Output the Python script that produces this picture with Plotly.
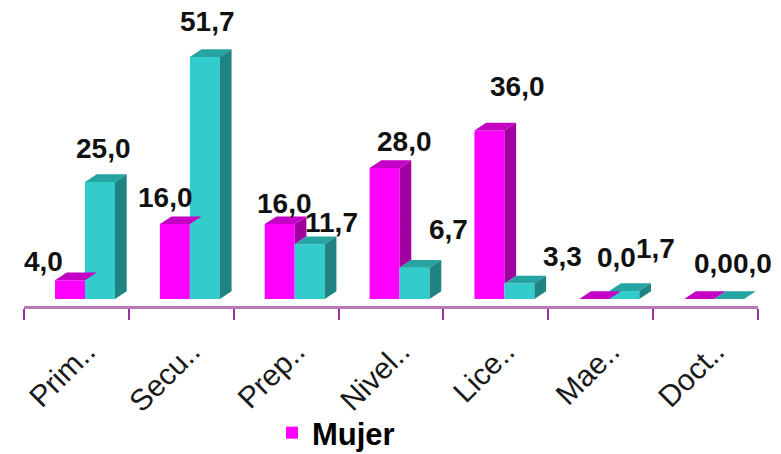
import plotly.graph_objects as go

# Education level shares (%)
categories = ["Prim..", "Secu..", "Prep..", "Nivel..", "Lice..", "Mae..", "Doct.."]
mujer = [4.0, 16.0, 16.0, 28.0, 36.0, 0.0, 0.0]
hombre = [25.0, 51.7, 11.7, 6.7, 3.3, 1.7, 0.0]

# Label offsets in pixels (x, y) relative to each bar's centre/top
mujer_label_dx = [-27, -9, 5, 20, 28, 22, 14]
mujer_label_dy = [19, 27, 21, 26, 44, 42, 36]
hombre_label_dx = [3, 3, 22, 34, 43, 31, 23]
hombre_label_dy = [34, 36, 22, 38, 27, 43, 36]

# Canvas and plot-area geometry
W, H = 781, 454
M_L, M_R, M_T, M_B = 24, 23, 10, 148
PLOT_W = W - M_L - M_R
PLOT_H = H - M_T - M_B
PX_PER_X = PLOT_W / len(categories)
PX_PER_Y = 4.68
BASE_PX = 7  # floor sits this many pixels above the axis line
Y_MIN = -BASE_PX / PX_PER_Y
Y_MAX = Y_MIN + PLOT_H / PX_PER_Y

# Bar geometry (in axis units)
BAR_W = 30 / PX_PER_X
M_OFF = -0.5 + 31 / PX_PER_X + BAR_W / 2
C_OFF = M_OFF + BAR_W
DEPTH_X = 11.7 / PX_PER_X
DEPTH_Y = 7.7 / PX_PER_Y

MAG_FRONT, MAG_TOP, MAG_SIDE = "#ff00ff", "#c400c4", "#a000a0"
CYA_FRONT, CYA_TOP, CYA_SIDE = "#33cccc", "#26a3a3", "#1f8383"

idx = list(range(len(categories)))
xm = [i + M_OFF for i in idx]
xc = [i + C_OFF for i in idx]


def top_faces(xs, vals):
    px, py = [], []
    for x, v in zip(xs, vals):
        l, r = x - BAR_W / 2, x + BAR_W / 2
        px += [l, r, r + DEPTH_X, l + DEPTH_X, l, None]
        py += [v, v, v + DEPTH_Y, v + DEPTH_Y, v, None]
    return px, py


def side_faces(xs, vals, bottoms):
    px, py = [], []
    for x, v, b in zip(xs, vals, bottoms):
        r = x + BAR_W / 2
        px += [r, r + DEPTH_X, r + DEPTH_X, r, r, None]
        py += [b, b + DEPTH_Y, v + DEPTH_Y, v, b, None]
    return px, py


def poly(xy, color):
    return go.Scatter(
        x=xy[0], y=xy[1], mode="lines", fill="toself", fillcolor=color,
        line=dict(width=0, color=color), hoverinfo="skip", showlegend=False,
    )


fig = go.Figure()

# Front faces
fig.add_trace(go.Bar(x=xm, y=mujer, width=BAR_W, name="Mujer",
                     marker=dict(color=MAG_FRONT, line=dict(width=0))))
fig.add_trace(go.Bar(x=xc, y=hombre, width=BAR_W, name="Hombre", showlegend=False,
                     marker=dict(color=CYA_FRONT, line=dict(width=0))))

# Magenta side is only visible above the neighbouring cyan bar
mag_side_bottom = [min(c, m) for m, c in zip(mujer, hombre)]
fig.add_trace(poly(side_faces(xm, mujer, mag_side_bottom), MAG_SIDE))
fig.add_trace(poly(top_faces(xm, mujer), MAG_TOP))
fig.add_trace(poly(top_faces(xc, hombre), CYA_TOP))
fig.add_trace(poly(side_faces(xc, hombre, [0] * len(hombre)), CYA_SIDE))


def fmt(v):
    return f"{v:.1f}".replace(".", ",")


label_font = dict(family="Liberation Sans, Arial, sans-serif", size=28, color="#111111")
for xs, vals, dxs, dys in ((xm, mujer, mujer_label_dx, mujer_label_dy),
                           (xc, hombre, hombre_label_dx, hombre_label_dy)):
    for x, v, dx, dy in zip(xs, vals, dxs, dys):
        fig.add_annotation(x=x, y=v, text=f"<b>{fmt(v)}</b>", showarrow=False,
                           xanchor="center", yanchor="middle",
                           xshift=dx, yshift=dy, font=label_font)

boundaries = [i - 0.5 for i in range(len(categories) + 1)]
LABEL_SHIFT = 10 / PX_PER_X

fig.update_layout(
    width=W, height=H,
    margin=dict(l=M_L, r=M_R, t=M_T, b=M_B, autoexpand=False),
    paper_bgcolor="white", plot_bgcolor="white",
    barmode="overlay",
    showlegend=True,
    legend=dict(orientation="h", xref="container", yref="container",
                x=272 / W, y=1 - 433 / H, xanchor="left", yanchor="middle",
                font=dict(family="Liberation Sans, Arial, sans-serif", size=31,
                          color="#000000", weight="bold"),
                bgcolor="rgba(0,0,0,0)"),
    xaxis=dict(
        range=[-0.5, len(categories) - 0.5],
        showgrid=False, zeroline=False, automargin=False,
        showline=True, linecolor="#b77ab7", linewidth=3,
        tickmode="array",
        tickvals=[i + LABEL_SHIFT for i in idx],
        ticktext=categories,
        tickangle=-45,
        ticks="outside", ticklen=13, tickcolor="rgba(0,0,0,0)",
        tickfont=dict(family="Liberation Sans, Arial, sans-serif", size=30, color="#1a1a1a"),
        minor=dict(tickmode="array", tickvals=boundaries, ticks="outside",
                   ticklen=11, tickwidth=2, tickcolor="#993399", showgrid=False),
    ),
    yaxis=dict(range=[Y_MIN, Y_MAX], visible=False, showgrid=False, zeroline=False,
               automargin=False),
)

fig.write_html("out.html")
